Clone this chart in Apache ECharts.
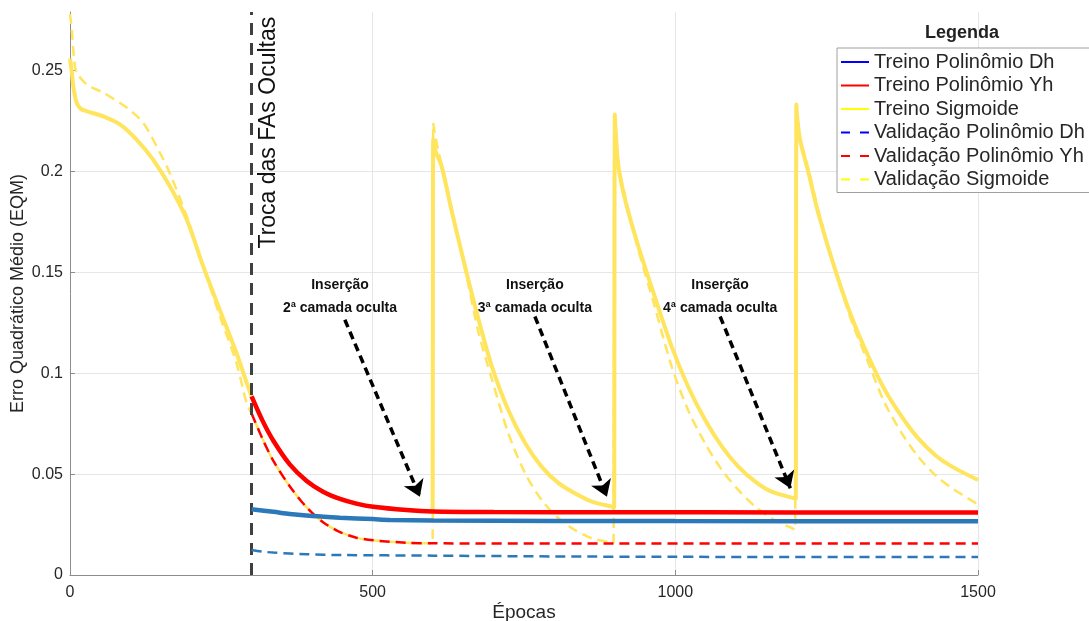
<!DOCTYPE html>
<html>
<head>
<meta charset="utf-8">
<script src="https://cdn.jsdelivr.net/npm/echarts@6/dist/echarts.min.js"></script>
<style>
  html, body { margin: 0; padding: 0; background: #fff; }
  #main { width: 1089px; height: 621px; }
</style>
</head>
<body>
<div id="main"></div>
<script>
const FONT = "'Liberation Sans', Arial, sans-serif";

// [epoca, EQM]
const treinoDh = [[300, 0.0326], [336, 0.0313], [363, 0.0302], [400, 0.0292], [446, 0.0284], [500, 0.0277],
  [529, 0.0273], [600, 0.0270], [800, 0.0268], [1000, 0.0267], [1500, 0.0266]];
const treinoYh = [[300, 0.0885], [318, 0.0765], [336, 0.0665], [363, 0.0548], [391, 0.0466], [418, 0.0413],
  [446, 0.0377], [473, 0.0354], [501, 0.0338], [556, 0.0322], [600, 0.0315], [700, 0.0312], [900, 0.0311],
  [1200, 0.031], [1500, 0.031]];
const treinoSig = [[0, 0.256], [3, 0.249], [6, 0.241], [11, 0.234], [18, 0.231], [28, 0.2298], [55, 0.2273],
  [83, 0.2232], [110, 0.2158], [137, 0.206], [165, 0.1926], [193, 0.176], [220, 0.153], [248, 0.131],
  [275, 0.110], [300, 0.0885], [318, 0.0765], [336, 0.0665], [363, 0.0548], [391, 0.0466], [418, 0.0413],
  [446, 0.0377], [473, 0.0354], [501, 0.0338], [556, 0.0322], [599, 0.0315], [600, 0.0315],
  [600, 0.2158], [601, 0.2135], [605, 0.209], [614, 0.2025], [630, 0.181], [642, 0.166], [658, 0.1463],
  [675, 0.1265], [697, 0.1033], [724, 0.0818], [752, 0.0653], [779, 0.0537], [807, 0.0455], [834, 0.0405],
  [862, 0.0364], [899, 0.0336], [900, 0.0335],
  [900, 0.2282], [901, 0.222], [906, 0.2025], [917, 0.186], [939, 0.1628], [966, 0.138], [994, 0.1132],
  [1021, 0.0934], [1049, 0.0769], [1077, 0.0636], [1104, 0.0537], [1132, 0.0463], [1159, 0.0413],
  [1199, 0.0378], [1200, 0.0377],
  [1200, 0.2331], [1201, 0.228], [1206, 0.2158], [1220, 0.1993], [1236, 0.1794], [1264, 0.1513],
  [1291, 0.128], [1319, 0.1083], [1346, 0.0918], [1374, 0.0785], [1401, 0.0678], [1429, 0.0595],
  [1457, 0.0537], [1500, 0.0471]];
const validDh = [[300, 0.0124], [318, 0.0116], [336, 0.0111], [391, 0.0103], [446, 0.0099], [600, 0.0096],
  [800, 0.0092], [1000, 0.009], [1500, 0.0089]];
const validYh = [[300, 0.080], [318, 0.0675], [336, 0.0565], [363, 0.044], [391, 0.0335], [418, 0.0262],
  [446, 0.0213], [473, 0.0185], [501, 0.0172], [556, 0.016], [600, 0.0157], [800, 0.0156], [1500, 0.0156]];
const validSig = [[0, 0.278], [3, 0.27], [7, 0.255], [11, 0.249], [28, 0.243], [55, 0.239], [94, 0.2315],
  [121, 0.224], [149, 0.209], [165, 0.199], [193, 0.1777], [220, 0.153], [248, 0.128], [275, 0.105],
  [292, 0.085], [300, 0.080], [318, 0.0675], [336, 0.0565], [363, 0.044], [391, 0.0335], [418, 0.0262],
  [446, 0.0213], [473, 0.0185], [501, 0.0172], [556, 0.016], [599, 0.0157],
  [600, 0.224], [601, 0.222], [608, 0.2108], [620, 0.196], [642, 0.166], [658, 0.144], [675, 0.120],
  [697, 0.097], [724, 0.0703], [752, 0.0504], [779, 0.0372], [807, 0.0281], [834, 0.0223], [862, 0.0182],
  [898, 0.0158], [899, 0.0157],
  [900, 0.226], [901, 0.222], [906, 0.204], [917, 0.188], [939, 0.161], [966, 0.133], [994, 0.1033],
  [1021, 0.0818], [1049, 0.0653], [1077, 0.052], [1104, 0.0422], [1132, 0.0339], [1159, 0.0281],
  [1198, 0.0224], [1199, 0.0223],
  [1200, 0.222], [1201, 0.2205], [1206, 0.216], [1220, 0.201], [1236, 0.181], [1264, 0.151], [1291, 0.126],
  [1319, 0.105], [1346, 0.0852], [1374, 0.0703], [1401, 0.0587], [1429, 0.0496], [1457, 0.043], [1500, 0.035]];

const nomes = ['Treino Polinômio Dh', 'Treino Polinômio Yh', 'Treino Sigmoide',
  'Validação Polinômio Dh', 'Validação Polinômio Yh', 'Validação Sigmoide'];
const coresLegenda = ['#0000ff', '#ff0000', '#ffff00', '#0000ff', '#ff0000', '#ffff00'];
const yTicks = [0, 0.05, 0.1, 0.15, 0.2, 0.25];
const xTicks = [0, 500, 1000, 1500];

const trocaEpoca = 300;
const textosInsercao = ['Inserção\n2ª camada oculta', 'Inserção\n3ª camada oculta', 'Inserção\n4ª camada oculta'];
const posInsercao = [[446, 0.1377], [768, 0.1377], [1074, 0.1377]];
const setas = [
  [[454, 0.1265], [578, 0.0388]],
  [[768, 0.1281], [887, 0.0388]],
  [[1074, 0.1281], [1190, 0.043]]
];

const AZUL = '#2b79b8', VERMELHO = '#ff0000', AMARELO = '#ffe45e';

function linha(name, data, color, width, dashed, z) {
  return {
    name, type: 'line', data, z,
    symbol: 'none', showSymbol: false,
    smooth: 0.3,
    lineStyle: { color, width, type: dashed ? [10, 6] : 'solid' },
    itemStyle: { color },
    emphasis: { disabled: true },
    silent: true
  };
}

const chart = echarts.init(document.getElementById('main'));

chart.setOption({
  animation: false,
  grid: { left: 70, right: 111, top: 12, bottom: 46, outerBoundsMode: 'none', containLabel: false },
  xAxis: {
    type: 'value', min: 0, max: 1500, interval: 500,
    name: 'Épocas', nameLocation: 'middle', nameGap: 28, nameMoveOverlap: false,
    nameTextStyle: { fontFamily: FONT, fontSize: 19, color: '#262626' },
    axisLine: { lineStyle: { color: '#8c8c8c', width: 1 } },
    axisTick: { inside: true, length: 5, lineStyle: { color: '#8c8c8c' }, customValues: xTicks },
    axisLabel: { fontFamily: FONT, fontSize: 16, color: '#262626', margin: 10, customValues: xTicks,
      formatter: v => String(v) },
    splitLine: { show: true, lineStyle: { color: '#e6e6e6', width: 1 } }
  },
  yAxis: {
    type: 'value', min: 0, max: 0.279, interval: 0.05,
    name: 'Erro Quadrático Médio (EQM)', nameLocation: 'middle', nameGap: 43, nameMoveOverlap: false,
    nameTextStyle: { fontFamily: FONT, fontSize: 18, color: '#262626' },
    axisLine: { show: true, lineStyle: { color: '#8c8c8c', width: 1 } },
    axisTick: { show: true, inside: true, length: 5, lineStyle: { color: '#8c8c8c' }, customValues: yTicks },
    axisLabel: { fontFamily: FONT, fontSize: 16, color: '#262626', margin: 7, customValues: yTicks },
    splitLine: { show: true, showMaxLine: false, lineStyle: { color: '#e6e6e6', width: 1 } }
  },
  legend: {
    orient: 'vertical', left: 837, top: 48,
    padding: [4, 5, 3, 3],
    itemWidth: 28, itemHeight: 12, itemGap: 3.5,
    borderColor: '#a0a0a0', borderWidth: 1, borderRadius: 0, backgroundColor: '#fff',
    selectedMode: false,
    textStyle: { fontFamily: FONT, fontSize: 20, color: '#262626', lineHeight: 20 },
    itemStyle: { opacity: 0 },
    data: nomes.map((n, i) => ({
      name: n,
      itemStyle: { opacity: 0, borderWidth: 0 },
      lineStyle: { color: coresLegenda[i], width: 2, type: i < 3 ? 'solid' : [9, 10] }
    }))
  },
  graphic: [{
    type: 'text', x: 962, y: 33,
    style: { text: 'Legenda', fontFamily: FONT, fontSize: 18, fontWeight: 'bold', fill: '#222',
      textAlign: 'center', textVerticalAlign: 'middle' }
  }],
  series: [
    linha(nomes[5], validSig, AMARELO, 2.5, true, 2),
    linha(nomes[2], treinoSig, AMARELO, 4, false, 3),
    linha(nomes[4], validYh, VERMELHO, 2.5, true, 4),
    linha(nomes[1], treinoYh, VERMELHO, 4.5, false, 5),
    linha(nomes[3], validDh, AZUL, 2.5, true, 6),
    linha(nomes[0], treinoDh, AZUL, 4.5, false, 7),
    {
      name: 'anotacoes', type: 'line', data: [], z: 10, silent: true,
      itemStyle: { color: '#000' },
      markLine: {
        silent: true, animation: false,
        symbol: ['none', 'arrow'], symbolSize: 15,
        label: { show: false },
        emphasis: { disabled: true },
        itemStyle: { color: '#000' },
        lineStyle: { color: '#000' },
        data: [
          [{ xAxis: trocaEpoca, yAxis: 0, symbol: 'none', lineStyle: { color: '#404040', width: 3, type: [12, 8] } },
           { xAxis: trocaEpoca, yAxis: 0.279, symbol: 'none' }]
        ].concat(setas.map(s => [
          { coord: s[0], symbol: 'none', lineStyle: { color: '#000', width: 3.5, type: [8, 5] } },
          { coord: s[1], symbol: 'arrow', symbolSize: 16, itemStyle: { color: '#000' } }
        ]))
      },
      markPoint: {
        silent: true, animation: false,
        symbol: 'circle', symbolSize: 0,
        label: { show: true, position: 'inside', formatter: '{b}', fontFamily: FONT, fontSize: 14,
          fontWeight: 'bold', color: '#111', lineHeight: 23, align: 'center', verticalAlign: 'middle' },
        data: textosInsercao.map((t, i) => ({ name: t, coord: posInsercao[i] })).concat([{
          name: 'Troca das FAs Ocultas', coord: [329, 0.2192],
          label: { rotate: 90, fontSize: 23, fontWeight: 'normal', color: '#111' }
        }])
      }
    }
  ]
});
</script>
</body>
</html>
